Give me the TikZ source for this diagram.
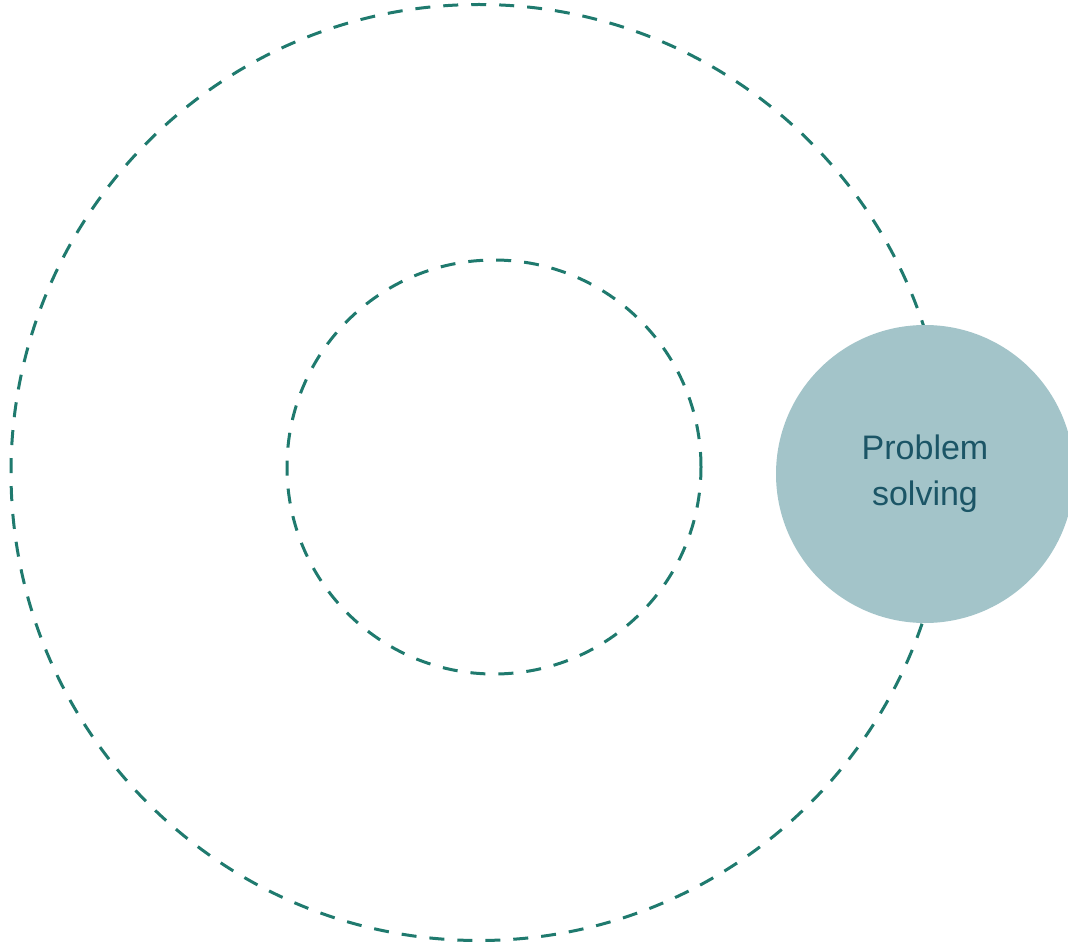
\documentclass[tikz,border=0pt]{standalone}
\usepackage{fontspec}
\setmainfont{Liberation Sans}
\definecolor{ringteal}{HTML}{1F7A6E}
\definecolor{bubblefill}{HTML}{A3C4C9}
\definecolor{bubbletext}{HTML}{1B5566}
\begin{document}
\begin{tikzpicture}[x=1pt,y=-1pt,
  ring/.style={draw=ringteal,line width=3pt,dash pattern=on 15pt off 13pt},
  bubble/.style={circle,fill=bubblefill,minimum size=298pt,inner sep=0pt,text=bubbletext,align=center,font=\fontsize{34}{46}\selectfont}]
\useasboundingbox (0,0) rectangle (1068,944);
\node[ring,circle,minimum size=936pt,inner sep=0pt] (outer) at (479,472.5) {};
\node[ring,circle,minimum size=414pt,inner sep=0pt] (inner) at (494,467) {};
\node[bubble] (ps) at (925,474) {Problem\\solving};
\end{tikzpicture}
\end{document}
